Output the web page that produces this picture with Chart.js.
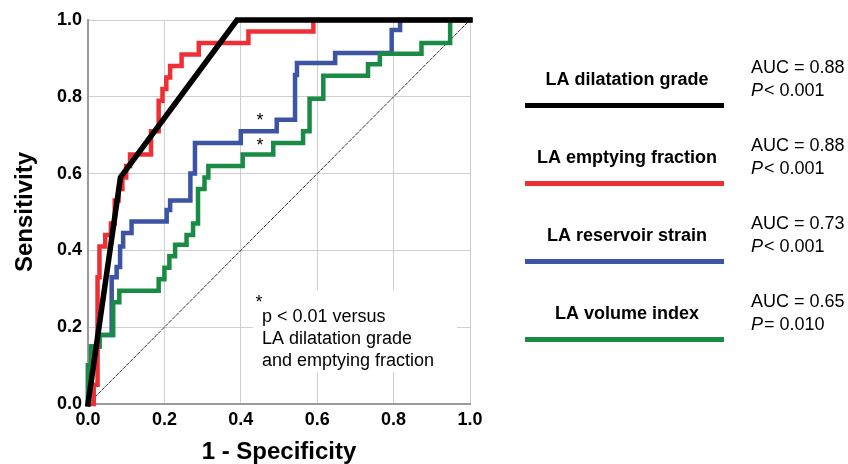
<!DOCTYPE html>
<html>
<head>
<meta charset="utf-8">
<script src="https://cdn.jsdelivr.net/npm/chart.js@4"></script>
<style>
  html, body { margin: 0; padding: 0; background: #fff; }
  #wrap { width: 848px; height: 464px; }
</style>
</head>
<body>
<div id="wrap"><canvas id="roc" width="848" height="464"></canvas></div>
<script>
// --- dados (1 - especificidade / sensibilidade) ---
const dilatFpr = [0, 0.085, 0.39, 1];
const dilatTpr = [0, 0.59, 1, 1];

// curvas em degrau: cada ponto = topo de um degrau vertical
const emptyFpr = [0, 0.015, 0.025, 0.03, 0.045, 0.06, 0.07, 0.08, 0.09, 0.1, 0.11, 0.165, 0.185, 0.195, 0.205, 0.215, 0.245, 0.29, 0.42, 0.59, 1];
const emptyTpr = [0, 0.05, 0.33, 0.41, 0.44, 0.47, 0.53, 0.56, 0.59, 0.62, 0.65, 0.71, 0.79, 0.82, 0.85, 0.88, 0.91, 0.94, 0.97, 1, 1];

const strainFpr = [0, 0, 0.008, 0.03, 0.062, 0.075, 0.084, 0.092, 0.114, 0.206, 0.215, 0.268, 0.28, 0.4, 0.494, 0.542, 0.547, 0.647, 0.795, 0.817, 1];
const strainTpr = [0, 0.1, 0.15, 0.18, 0.33, 0.357, 0.41, 0.445, 0.475, 0.505, 0.53, 0.6, 0.68, 0.71, 0.74, 0.857, 0.888, 0.914, 0.974, 1, 1];

const volumeFpr = [0, 0, 0.008, 0.03, 0.066, 0.082, 0.185, 0.2, 0.213, 0.228, 0.258, 0.275, 0.288, 0.305, 0.315, 0.405, 0.485, 0.563, 0.58, 0.616, 0.733, 0.764, 0.873, 0.948, 1];
const volumeTpr = [0, 0.1, 0.15, 0.18, 0.265, 0.295, 0.325, 0.355, 0.385, 0.415, 0.44, 0.47, 0.56, 0.59, 0.62, 0.65, 0.68, 0.71, 0.795, 0.855, 0.885, 0.912, 0.94, 1, 1];

const refFpr = [0, 1];
const refTpr = [0, 1];

const tickValues = [0, 0.2, 0.4, 0.6, 0.8, 1.0];

const legendLabels = ['LA dilatation grade', 'LA emptying fraction', 'LA reservoir strain', 'LA volume index'];
const aucLabels = ['AUC = 0.88', 'AUC = 0.88', 'AUC = 0.73', 'AUC = 0.65'];
const pLabels = ['< 0.001', '< 0.001', '< 0.001', '= 0.010'];
const notaLinhas = ['p < 0.01 versus', 'LA dilatation grade', 'and emptying fraction'];

// --- estilos ---
const CORES = ['#000000', '#ee2f35', '#3d54a5', '#1a8b45'];
const FONTE = "'Liberation Sans', Arial, Helvetica, sans-serif";

const pontos = (xs, ys) => xs.map((x, i) => ({ x: x, y: ys[i] }));

function serie(xs, ys, cor, largura, degrau) {
    return {
        data: pontos(xs, ys),
        showLine: true,
        borderColor: cor,
        backgroundColor: cor,
        borderWidth: largura,
        pointRadius: 0,
        stepped: degrau ? 'before' : false,
        borderCapStyle: 'square',
        clip: 6
    };
}

// caixa branca da nota, por baixo das curvas
const notaFundo = {
    id: 'notaFundo',
    beforeDatasetsDraw(chart) {
        const ctx = chart.ctx;
        ctx.save();
        ctx.fillStyle = '#fff';
        ctx.fillRect(253, 290, 204, 82);
        ctx.restore();
    }
};

// legenda, AUC, asteriscos e nota
const textos = {
    id: 'textos',
    afterDraw(chart) {
        const ctx = chart.ctx;
        const sx = chart.scales.x, sy = chart.scales.y;
        ctx.save();
        ctx.fillStyle = '#000';
        ctx.textBaseline = 'middle';

        legendLabels.forEach((rotulo, i) => {
            const yTexto = 80 + i * 78;
            ctx.font = 'bold 18px ' + FONTE;
            ctx.textAlign = 'center';
            ctx.fillText(rotulo, 627, yTexto);

            ctx.fillStyle = CORES[i];
            ctx.fillRect(525, yTexto + 23, 199, 5);
            ctx.fillStyle = '#000';

            ctx.textAlign = 'left';
            ctx.font = '18px ' + FONTE;
            ctx.fillText(aucLabels[i], 751, yTexto - 12);
            ctx.font = 'italic 18px ' + FONTE;
            ctx.fillText('P', 751, yTexto + 11);
            const larguraP = ctx.measureText('P').width;
            ctx.font = '18px ' + FONTE;
            ctx.fillText(pLabels[i], 751 + larguraP + 1, yTexto + 11);
        });

        // asteriscos junto às curvas
        ctx.font = '18px ' + FONTE;
        ctx.textAlign = 'center';
        ctx.fillText('*', sx.getPixelForValue(0.45), sy.getPixelForValue(0.737));
        ctx.fillText('*', sx.getPixelForValue(0.45), sy.getPixelForValue(0.672));

        // nota
        ctx.fillText('*', 259, 303);
        ctx.textAlign = 'left';
        notaLinhas.forEach((linha, i) => {
            ctx.fillText(linha, 262, 317 + i * 22);
        });
        ctx.restore();
    }
};

const eixoComum = {
    type: 'linear',
    min: 0,
    max: 1,
    grid: { color: '#cfcfcf', lineWidth: 1, drawTicks: false },
    border: { color: '#9a9a9a', width: 2 },
    afterBuildTicks: (scale) => { scale.ticks = tickValues.map(v => ({ value: v })); }
};

new Chart(document.getElementById('roc'), {
    type: 'scatter',
    data: {
        datasets: [
            serie(dilatFpr, dilatTpr, CORES[0], 5.5, false),
            serie(emptyFpr, emptyTpr, CORES[1], 4.5, true),
            serie(volumeFpr, volumeTpr, CORES[3], 4.5, true),
            serie(strainFpr, strainTpr, CORES[2], 4.5, true),
            Object.assign(serie(refFpr, refTpr, '#333', 1, false), { borderDash: [3, 2] })
        ]
    },
    options: {
        responsive: false,
        animation: false,
        layout: { padding: { top: 20, right: 378, left: 0, bottom: 0 } },
        plugins: {
            legend: { display: false },
            tooltip: { enabled: false }
        },
        scales: {
            x: Object.assign({}, eixoComum, {
                position: 'bottom',
                ticks: {
                    padding: 5,
                    color: '#000',
                    font: { family: FONTE, size: 18, weight: 'bold' },
                    maxRotation: 0,
                    callback: (v) => v.toFixed(1)
                },
                title: {
                    display: true,
                    text: '1 - Specificity',
                    color: '#000',
                    font: { family: FONTE, size: 24, weight: 'bold', lineHeight: 1 },
                    padding: { top: 0, bottom: 0 }
                },
                afterFit: (scale) => { scale.height = 60; }
            }),
            y: Object.assign({}, eixoComum, {
                position: 'left',
                ticks: {
                    padding: 6,
                    color: '#000',
                    font: { family: FONTE, size: 18, weight: 'bold' },
                    callback: (v) => v.toFixed(1)
                },
                title: {
                    display: true,
                    text: 'Sensitivity',
                    color: '#000',
                    font: { family: FONTE, size: 24, weight: 'bold', lineHeight: 1 },
                    padding: { top: 13, bottom: 0 }
                },
                afterFit: (scale) => { scale.width = 88; }
            })
        }
    },
    plugins: [notaFundo, textos]
});
</script>
</body>
</html>
